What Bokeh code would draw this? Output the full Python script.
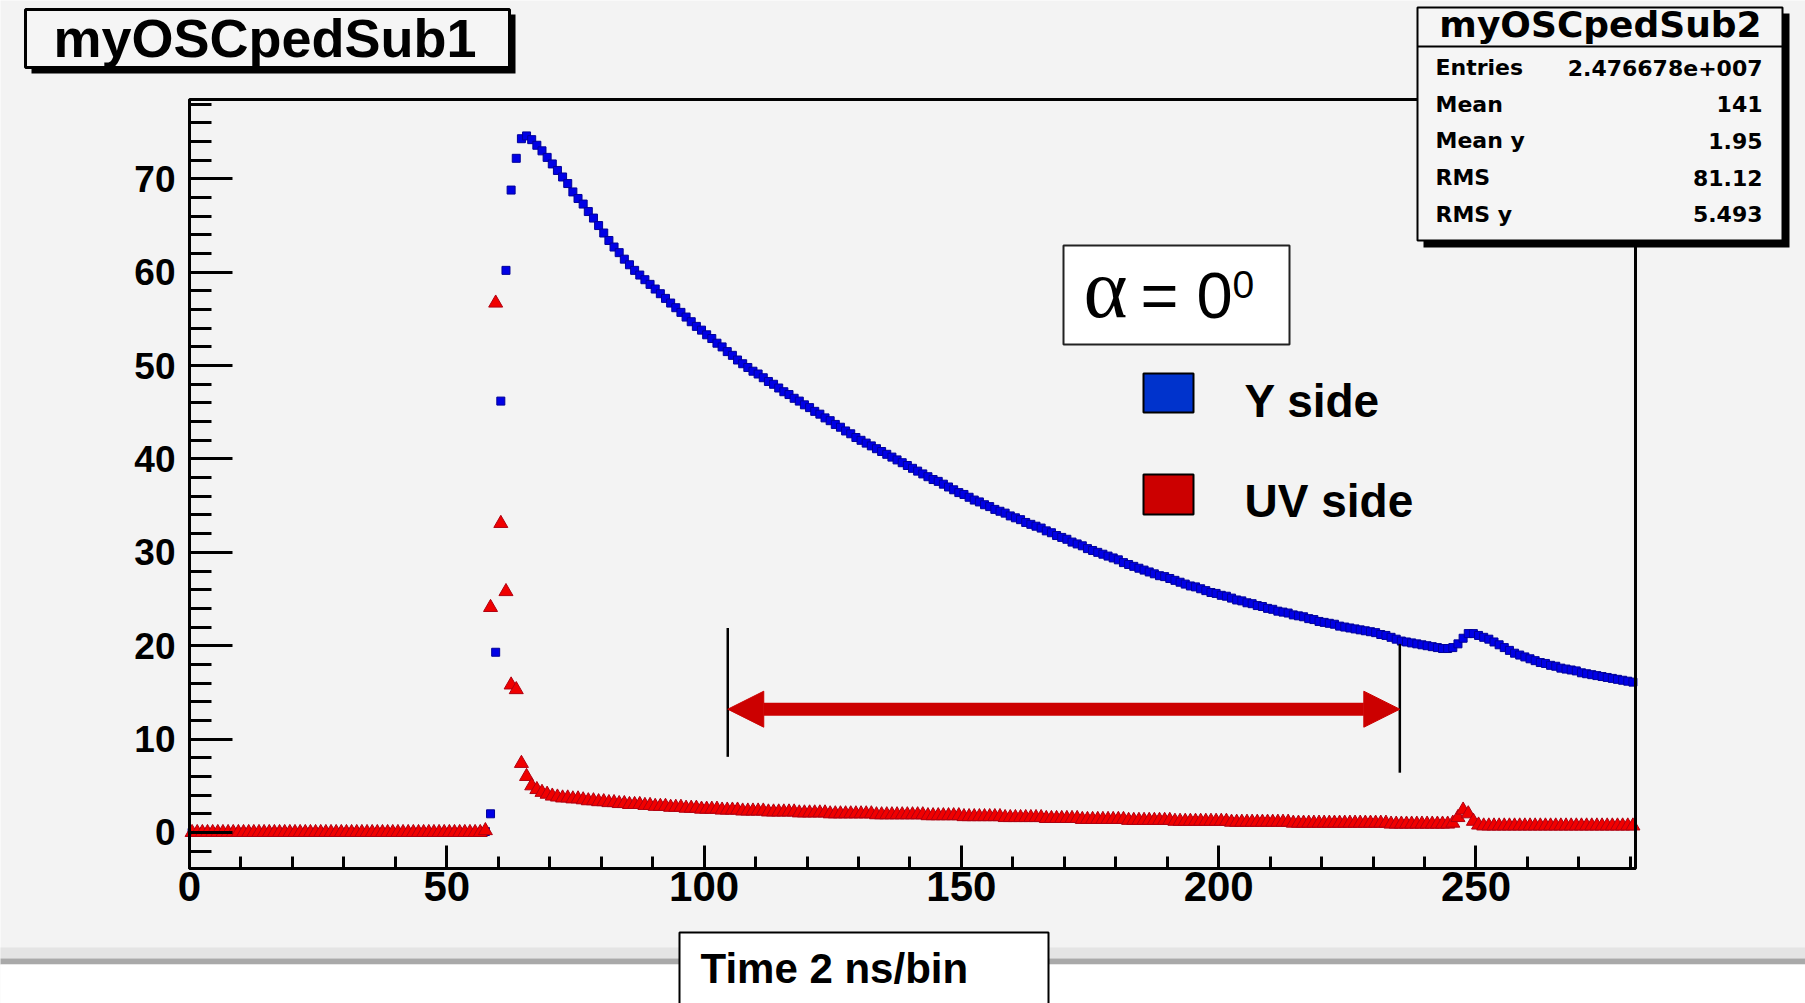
from bokeh.plotting import figure
from bokeh.models import (BoxAnnotation, Label, Arrow, NormalHead,
                          SingleIntervalTicker, Range1d, ColumnDataSource)
from bokeh.embed import file_html
from bokeh.resources import INLINE

# ---------------- data ----------------
n_bins = 281
bin_centers = [i + 0.5 for i in range(n_bins)]

y_side = [
    0.0, 0.0, 0.0, 0.0, 0.0, 0.0, 0.0, 0.0, 0.0, 0.0,
    0.0, 0.0, 0.0, 0.0, 0.0, 0.0, 0.0, 0.0, 0.0, 0.0,
    0.0, 0.0, 0.0, 0.0, 0.0, 0.0, 0.0, 0.0, 0.0, 0.0,
    0.0, 0.0, 0.0, 0.0, 0.0, 0.0, 0.0, 0.0, 0.0, 0.0,
    0.0, 0.0, 0.0, 0.0, 0.0, 0.0, 0.0, 0.0, 0.0, 0.0,
    0.0, 0.0, 0.0, 0.0, 0.0, 0.0, 0.0, 0.1, 2.0, 19.3,
    46.2, 60.2, 68.8, 72.2, 74.3, 74.6, 74.2, 73.6, 73.0, 72.3,
    71.6, 70.9, 70.2, 69.5, 68.6, 67.9, 67.3, 66.5, 65.8, 65.0,
    64.2, 63.4, 62.7, 62.1, 61.4, 60.8, 60.2, 59.7, 59.2, 58.7,
    58.2, 57.7, 57.2, 56.7, 56.2, 55.7, 55.2, 54.7, 54.2, 53.8,
    53.3, 52.9, 52.4, 52.0, 51.5, 51.1, 50.6, 50.2, 49.8, 49.4,
    49.1, 48.7, 48.3, 48.0, 47.6, 47.2, 46.9, 46.5, 46.2, 45.8,
    45.5, 45.1, 44.8, 44.4, 44.1, 43.7, 43.4, 43.0, 42.7, 42.3,
    42.0, 41.7, 41.4, 41.1, 40.8, 40.5, 40.2, 39.9, 39.6, 39.3,
    39.0, 38.7, 38.4, 38.1, 37.8, 37.6, 37.3, 37.0, 36.7, 36.4,
    36.2, 35.9, 35.6, 35.4, 35.1, 34.9, 34.6, 34.4, 34.2, 33.9,
    33.7, 33.5, 33.2, 33.0, 32.8, 32.6, 32.3, 32.1, 31.8, 31.6,
    31.4, 31.1, 30.9, 30.7, 30.4, 30.2, 30.0, 29.8, 29.6, 29.4,
    29.2, 28.9, 28.7, 28.5, 28.3, 28.1, 27.9, 27.7, 27.5, 27.4,
    27.2, 27.0, 26.8, 26.6, 26.4, 26.3, 26.1, 25.9, 25.7, 25.6,
    25.4, 25.3, 25.1, 24.9, 24.8, 24.6, 24.5, 24.3, 24.2, 24.0,
    23.9, 23.7, 23.6, 23.5, 23.3, 23.2, 23.1, 22.9, 22.8, 22.6,
    22.5, 22.4, 22.3, 22.1, 22.0, 21.9, 21.8, 21.7, 21.6, 21.5,
    21.4, 21.2, 21.1, 20.9, 20.7, 20.5, 20.4, 20.3, 20.2, 20.1,
    20.0, 19.9, 19.8, 19.7, 19.7, 19.8, 20.2, 20.8, 21.3, 21.3,
    21.1, 20.9, 20.7, 20.4, 20.1, 19.8, 19.5, 19.2, 19.0, 18.8,
    18.6, 18.4, 18.2, 18.1, 17.9, 17.8, 17.6, 17.5, 17.4, 17.3,
    17.1, 17.0, 16.9, 16.8, 16.7, 16.6, 16.5, 16.4, 16.3, 16.2,
    16.1,
]

uv_side = [
    0.0, 0.0, 0.0, 0.0, 0.0, 0.0, 0.0, 0.0, 0.0, 0.0,
    0.0, 0.0, 0.0, 0.0, 0.0, 0.0, 0.0, 0.0, 0.0, 0.0,
    0.0, 0.0, 0.0, 0.0, 0.0, 0.0, 0.0, 0.0, 0.0, 0.0,
    0.0, 0.0, 0.0, 0.0, 0.0, 0.0, 0.0, 0.0, 0.0, 0.0,
    0.0, 0.0, 0.0, 0.0, 0.0, 0.0, 0.0, 0.0, 0.0, 0.0,
    0.0, 0.0, 0.0, 0.0, 0.0, 0.0, 0.0, 0.2, 24.1, 56.7,
    33.1, 25.8, 15.8, 15.3, 7.4, 6.0, 5.0, 4.6, 4.3, 4.1,
    3.9, 3.8, 3.7, 3.7, 3.6, 3.6, 3.5, 3.4, 3.4, 3.3,
    3.3, 3.2, 3.2, 3.1, 3.1, 3.0, 3.0, 3.0, 2.9, 2.9,
    2.8, 2.8, 2.8, 2.7, 2.7, 2.7, 2.6, 2.6, 2.6, 2.5,
    2.5, 2.5, 2.5, 2.4, 2.4, 2.4, 2.4, 2.3, 2.3, 2.3,
    2.3, 2.3, 2.2, 2.2, 2.2, 2.2, 2.2, 2.2, 2.1, 2.1,
    2.1, 2.1, 2.1, 2.1, 2.0, 2.0, 2.0, 2.0, 2.0, 2.0,
    2.0, 2.0, 2.0, 1.9, 1.9, 1.9, 1.9, 1.9, 1.9, 1.9,
    1.9, 1.9, 1.9, 1.8, 1.8, 1.8, 1.8, 1.8, 1.8, 1.8,
    1.7, 1.7, 1.7, 1.7, 1.7, 1.7, 1.7, 1.7, 1.6, 1.6,
    1.6, 1.6, 1.6, 1.6, 1.6, 1.6, 1.5, 1.5, 1.5, 1.5,
    1.5, 1.5, 1.5, 1.4, 1.4, 1.4, 1.4, 1.4, 1.4, 1.4,
    1.4, 1.4, 1.3, 1.3, 1.3, 1.3, 1.3, 1.3, 1.3, 1.3,
    1.3, 1.2, 1.2, 1.2, 1.2, 1.2, 1.2, 1.2, 1.2, 1.2,
    1.2, 1.2, 1.1, 1.1, 1.1, 1.1, 1.1, 1.1, 1.1, 1.1,
    1.1, 1.1, 1.1, 1.1, 1.0, 1.0, 1.0, 1.0, 1.0, 1.0,
    1.0, 1.0, 1.0, 1.0, 1.0, 1.0, 1.0, 1.0, 1.0, 1.0,
    1.0, 1.0, 1.0, 0.9, 0.9, 0.9, 0.9, 0.9, 0.9, 0.9,
    0.9, 0.9, 0.9, 0.9, 0.9, 1.0, 1.6, 2.4, 2.0, 1.2,
    0.8, 0.7, 0.7, 0.7, 0.7, 0.7, 0.7, 0.7, 0.7, 0.7,
    0.7, 0.7, 0.7, 0.7, 0.7, 0.7, 0.7, 0.7, 0.7, 0.7,
    0.7, 0.7, 0.7, 0.7, 0.7, 0.7, 0.7, 0.7, 0.7, 0.7,
    0.7,
]

stat_labels = ["Entries", "Mean", "Mean y", "RMS", "RMS y"]
stat_values = ["2.476678e+007", "141", "1.95", "81.12", "5.493"]

# axis extent of the histogram frame
x_lo, x_hi = 0.0, 281.0
y_lo, y_hi = -3.86, 78.5

# window marked by the double arrow
bracket_x = [104.6, 235.2]
bracket_top = [21.9, 20.2]
bracket_bottom = [8.1, 6.4]
arrow_y = 13.2

# ---------------- layout (canvas pixels) ----------------
W, H = 1805, 1003
FL, FR, FT, FB = 189.0, 1635.0, 99.0, 868.0   # histogram frame edges on the canvas
sx = (x_hi - x_lo) / (FR - FL)
sy = (y_hi - y_lo) / (FB - FT)


def dx(px):
    return x_lo + (px - FL) * sx


def dy(py):
    return y_hi - (py - FT) * sy


p = figure(width=W, height=H, output_backend="svg", toolbar_location=None,
           x_range=Range1d(dx(0), dx(W)), y_range=Range1d(dy(H), dy(0)),
           min_border=0, min_border_left=0, min_border_right=0,
           min_border_top=0, min_border_bottom=0)
p.grid.visible = False
p.background_fill_color = "#f3f3f3"
p.border_fill_color = "#f3f3f3"
p.outline_line_color = None

FONT = "Liberation Sans"

xa = p.xaxis[0]
xa.fixed_location = y_lo
xa.bounds = (x_lo, x_hi)
xa.ticker = SingleIntervalTicker(interval=50, num_minor_ticks=5)
xa.major_tick_in = 23
xa.major_tick_out = 0
xa.minor_tick_in = 12
xa.minor_tick_out = 0
xa.axis_line_width = 3
xa.major_tick_line_width = 3
xa.minor_tick_line_width = 3
xa.major_label_text_font = FONT
xa.major_label_text_font_style = "bold"
xa.major_label_text_font_size = "42px"
xa.major_label_text_color = "black"
xa.major_label_standoff = 3

ya = p.yaxis[0]
ya.fixed_location = x_lo
ya.bounds = (y_lo, y_hi)
ya.ticker = SingleIntervalTicker(interval=10, num_minor_ticks=5)
ya.major_tick_in = 43
ya.major_tick_out = 0
ya.minor_tick_in = 22
ya.minor_tick_out = 0
ya.axis_line_width = 3
ya.major_tick_line_width = 3
ya.minor_tick_line_width = 3
ya.major_label_text_font = FONT
ya.major_label_text_font_style = "bold"
ya.major_label_text_font_size = "37px"
ya.major_label_text_color = "black"
ya.major_label_standoff = 14

# ---------------- data marks ----------------
src = ColumnDataSource(dict(x=bin_centers, y_side=y_side, uv_side=uv_side))
p.scatter("x", "y_side", source=src, marker="square", size=8,
          fill_color="#0000e6", line_color="#00009a", line_width=1)
p.scatter("x", "uv_side", source=src, marker="triangle", size=14,
          fill_color="#f00000", line_color="#b00010", line_width=1)

# double arrow with its two bracket lines
p.segment(x0=bracket_x, y0=bracket_top, x1=bracket_x, y1=bracket_bottom,
          line_color="black", line_width=2.5)
p.add_layout(Arrow(x_start=bracket_x[0], y_start=arrow_y, x_end=bracket_x[1], y_end=arrow_y,
                   start=NormalHead(size=36, fill_color="#cc0000", line_color="#cc0000"),
                   end=NormalHead(size=36, fill_color="#cc0000", line_color="#cc0000"),
                   line_color="#cc0000", line_width=13))


def box(x0, y0, x1, y1, fill, line=None, lw=2):
    b = BoxAnnotation(left=dx(x0), right=dx(x1), top=dy(y0), bottom=dy(y1),
                      fill_color=fill if fill else "white",
                      fill_alpha=1.0 if fill else 0.0,
                      line_color=line if line else "black",
                      line_alpha=1.0 if line else 0.0, line_width=lw)
    p.add_layout(b)


BASE_SHIFT = 0.36   # rendered baseline sits ~0.36 em below the anchor


def label(px, py, text, size, bold=True, align="left", font=FONT, color="black"):
    p.add_layout(Label(x=dx(px), y=dy(py - BASE_SHIFT * size), text=text, text_align=align,
                       text_baseline="alphabetic", text_font=font,
                       text_font_size=f"{size}px",
                       text_font_style="bold" if bold else "normal",
                       text_color=color))


# histogram frame (top and right edges; left/bottom are the axes)
box(FL, FT, FR, FB, None, "black", 3)

# page bottom: grey rule and white area
box(-10, 947, W + 10, 958, "#e4e4e4")
box(-10, 958, W + 10, 964, "#a9a9a9")
box(-10, 964, W + 10, H + 20, "#ffffff")

# title box
box(31, 14, 515, 73, "black")
box(25, 9, 509, 67, "#f5f5f5", "black", 3)
label(53, 57, "myOSCpedSub1", 54)

# stats box
box(1423, 13, 1789, 247, "black")
box(1417, 7, 1782, 240, "#f5f5f5", "black", 2)
box(1417, 45, 1782, 47, "black")
label(1600, 37, "myOSCpedSub2", 36, align="center", font="DejaVu Sans")
for k, (lab, val) in enumerate(zip(stat_labels, stat_values)):
    base = 75 + k * 36.7
    label(1435, base, lab, 22, font="DejaVu Sans")
    label(1762, base, val, 22, align="right", font="DejaVu Sans")

# alpha box
box(1063, 245, 1289, 344, "#ffffff", "#222222", 2)
label(1083, 318, "α", 84, bold=False, font="Liberation Serif")
label(1140, 318, "= 0", 65, bold=False)
label(1232, 298, "0", 39, bold=False)

# legend
box(1143, 373, 1193, 412, "#0033cc", "black", 2)
box(1143, 474, 1193, 514, "#cc0000", "black", 2)
label(1244, 417, "Y side", 46)
label(1244, 517, "UV side", 46)

# x-axis title box
box(679, 932, 1048, H + 20, "#ffffff", "black", 2)
label(700, 983, "Time 2 ns/bin", 42)

open("out.html", "w").write(file_html(p, INLINE))
